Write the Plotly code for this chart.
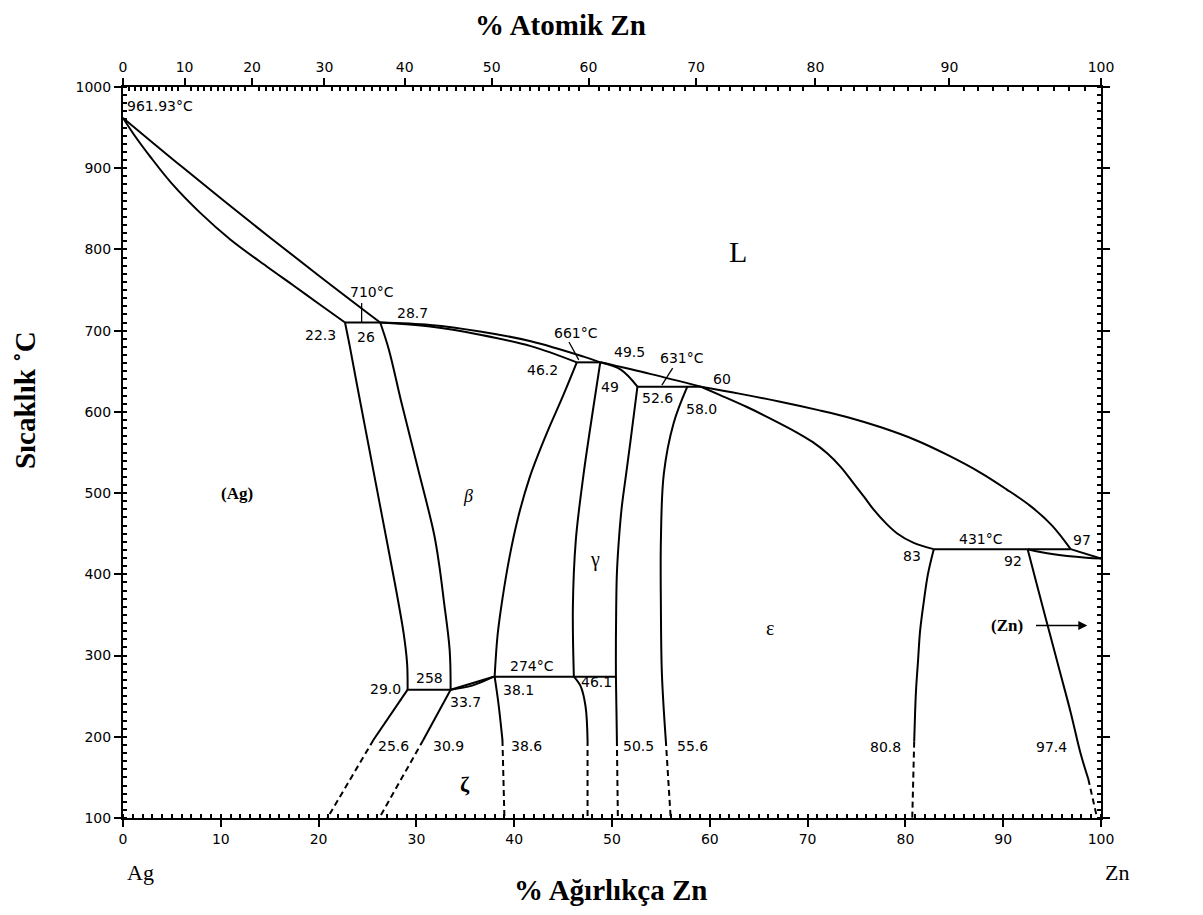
import plotly.graph_objects as go

# ---------------- data (wt.% Zn, temperature °C) ----------------
ag_liq_x = [0, 6, 13, 20, 26.3]
ag_liq_T = [961.93, 902, 834, 768, 710]
ag_sol_x = [0, 1.2, 2.8, 5, 7.9, 11, 14.7, 17.5, 19.8, 22.7]
ag_sol_T = [961.93, 940, 914, 881, 845, 812, 779, 755, 735, 710]

per710_x = [22.7, 26.3]
per710_T = [710, 710]

alpha_solvus_x = [22.7, 23.2, 23.9, 25.2, 26.5, 27.8, 28.7, 29.05, 29.1]
alpha_solvus_T = [710, 680, 635, 553, 471, 389, 327, 290, 258]

beta_left_x = [26.3, 27.2, 28.4, 30.1, 31.8, 32.35, 32.8, 33.4, 33.5]
beta_left_T = [710, 676, 615, 533, 450, 410, 368, 307, 258]

eut258_x = [29.1, 33.5]
eut258_T = [258, 258]

liq1_x = [26.3, 31.4, 36.5, 41.7, 47.1, 48.8]
liq1_T = [710, 707, 699, 687, 668, 661]
beta_sol_x = [26.3, 31.4, 36.5, 41.7, 46.4]
beta_sol_T = [710, 705, 695, 681, 661]

per661_x = [46.4, 48.8]
per661_T = [661, 661]

beta_right_x = [46.4, 45.0, 43.2, 41.6, 40.4, 39.5, 38.8, 38.3, 38.0]
beta_right_T = [661, 620, 570, 520, 470, 420, 370, 325, 274]

liq2a_x = [48.8, 54, 59.1]
liq2a_T = [661, 646.5, 631]
liq2b_x = [59.1, 63, 67.2, 71, 74.1, 77.5, 80.9, 84.3, 87.7, 90.3, 92.8, 95, 96.9]
liq2b_T = [631, 622.5, 612.5, 602.5, 593.5, 581, 566, 547, 525, 505, 484, 460, 431]

gamma_sol_x = [48.8, 50.9, 52.6]
gamma_sol_T = [661, 652, 631]

per631_x = [52.6, 59.1]
per631_T = [631, 631]

gamma_left_x = [48.8, 48.1, 47.1, 46.3, 46.0, 46.1]
gamma_left_T = [661, 606, 524, 442, 360, 274]

zeta_gamma_x = [46.1, 46.8, 47.3, 47.5]
zeta_gamma_T = [274, 262, 237, 196]
zeta_gamma_d_x = [47.5, 47.5]
zeta_gamma_d_T = [196, 100]

line274_x = [37.9, 50.4]
line274_T = [274, 274]

gamma_right_x = [52.6, 52.25, 51.9, 51.45, 51.0, 50.7, 50.5, 50.43, 50.4, 50.4, 50.45, 50.5]
gamma_right_T = [631, 598, 565, 524, 483, 442, 401, 360, 319, 278, 237, 196]
gamma_right_d_x = [50.5, 50.6]
gamma_right_d_T = [196, 100]

eps_left_x = [57.7, 56.3, 55.3, 55.0, 55.0, 55.1, 55.5]
eps_left_T = [631, 586, 524, 442, 360, 278, 196]
eps_left_d_x = [55.5, 56.0]
eps_left_d_T = [196, 100]

eps_sol_x = [59.1, 61, 63.8, 66, 69.0, 70.5, 72, 73.4, 74.7, 75.8, 76.8, 78, 79.2, 80.8, 82.9]
eps_sol_T = [631, 621, 606, 593, 574, 563, 549, 532, 512, 495, 479, 463, 450, 439, 431]

per431_x = [82.9, 96.9]
per431_T = [431, 431]

eps_right_x = [82.9, 82.3, 81.9, 81.5, 81.3, 81.1, 81.0, 80.9]
eps_right_T = [431, 400, 368, 330, 295, 260, 233, 194]
eps_right_d_x = [80.9, 80.7]
eps_right_d_T = [194, 100]

zn_solvus_x = [92.5, 93.6, 94.7, 95.8, 96.9, 97.9, 98.7]
zn_solvus_T = [431, 380, 330, 280, 230, 180, 148]
zn_solvus_d_x = [98.7, 99.6]
zn_solvus_d_T = [148, 100]

zn_sol_x = [92.5, 95.0, 98.5, 100]
zn_sol_T = [431, 425, 420.5, 419.58]
zn_liq_x = [96.9, 100]
zn_liq_T = [431, 419.58]

z1_x = [29.1, 25.6]
z1_T = [258, 196]
z1_d_x = [25.6, 20.9]
z1_d_T = [196, 100]
z2_x = [33.5, 30.7]
z2_T = [258, 196]
z2_d_x = [30.7, 26.2]
z2_d_T = [196, 100]
z3_x = [38.0, 38.4, 38.8]
z3_T = [274, 240, 196]
z3_d_x = [38.8, 39.0]
z3_d_T = [196, 100]

lens_up_x = [33.5, 37.9]
lens_up_T = [258, 274]
lens_lo_x = [33.5, 35.7, 37.9]
lens_lo_T = [258, 263, 274]

lead710_x = [24.4, 24.4]
lead710_T = [734, 710]
lead661_x = [45.6, 46.6]
lead661_T = [686, 664]
lead631_x = [56.2, 55.1]
lead631_T = [654, 633]

# point labels: text, x, T
label_text = ["961.93°C", "710°C", "28.7", "22.3", "26", "661°C", "49.5", "46.2", "49",
              "631°C", "60", "52.6", "58.0", "258", "29.0", "33.7", "274°C", "38.1", "46.1",
              "25.6", "30.9", "38.6", "50.5", "55.6", "80.8", "97.4", "431°C", "97", "83", "92"]
label_x = [0.2, 25.5, 29.6, 20.2, 24.8, 46.3, 51.8, 42.9, 49.8,
           57.2, 61.2, 54.7, 59.2, 31.3, 26.8, 35.0, 41.8, 40.4, 48.4,
           27.7, 33.3, 41.3, 52.7, 58.2, 78.0, 94.9, 87.7, 98.1, 80.7, 91.0]
label_T = [976, 748, 722, 695, 692, 697, 674, 651, 631,
           666, 641, 617, 604, 272, 259, 243, 287, 257, 268,
           189, 189, 189, 189, 189, 188, 188, 443, 442, 422, 416]

# top axis (atomic % Zn) tick positions on the wt.% scale
top_tick_pos = [0, 6.3, 13.2, 20.6, 28.8, 37.7, 47.6, 58.6, 70.8, 84.5, 100]
top_tick_text = ["0", "10", "20", "30", "40", "50", "60", "70", "80", "90", "100"]

M_ZN, M_AG = 65.38, 107.87
def at_to_wt(a):
    return 100 * a * M_ZN / (a * M_ZN + (100 - a) * M_AG)
top_minor = [at_to_wt(a) for a in range(1, 100) if a % 10 != 0]

fig = go.Figure()

def add_line(x, y, dash="solid", smooth=True):
    fig.add_trace(go.Scatter(
        x=x, y=y, mode="lines",
        line=dict(color="black", width=2, dash=dash,
                  shape="spline" if (smooth and len(x) > 2) else "linear",
                  smoothing=1.0),
        hoverinfo="skip", showlegend=False))

solid = [
    (ag_liq_x, ag_liq_T), (ag_sol_x, ag_sol_T), (per710_x, per710_T),
    (alpha_solvus_x, alpha_solvus_T), (beta_left_x, beta_left_T), (eut258_x, eut258_T),
    (liq1_x, liq1_T), (beta_sol_x, beta_sol_T), (per661_x, per661_T),
    (beta_right_x, beta_right_T), (liq2a_x, liq2a_T), (liq2b_x, liq2b_T),
    (gamma_sol_x, gamma_sol_T),
    (per631_x, per631_T), (gamma_left_x, gamma_left_T), (zeta_gamma_x, zeta_gamma_T),
    (line274_x, line274_T), (gamma_right_x, gamma_right_T), (eps_left_x, eps_left_T),
    (eps_sol_x, eps_sol_T), (per431_x, per431_T), (eps_right_x, eps_right_T),
    (zn_solvus_x, zn_solvus_T), (zn_sol_x, zn_sol_T), (zn_liq_x, zn_liq_T),
    (z1_x, z1_T), (z2_x, z2_T), (z3_x, z3_T), (lens_up_x, lens_up_T), (lens_lo_x, lens_lo_T),
]
for x, y in solid:
    add_line(x, y)

for x, y in [(lead710_x, lead710_T), (lead661_x, lead661_T), (lead631_x, lead631_T)]:
    fig.add_trace(go.Scatter(x=x, y=y, mode="lines", line=dict(color="black", width=1.3),
                             hoverinfo="skip", showlegend=False))

dashed = [
    (zeta_gamma_d_x, zeta_gamma_d_T), (gamma_right_d_x, gamma_right_d_T),
    (eps_left_d_x, eps_left_d_T), (eps_right_d_x, eps_right_d_T),
    (zn_solvus_d_x, zn_solvus_d_T), (z1_d_x, z1_d_T), (z2_d_x, z2_d_T), (z3_d_x, z3_d_T),
]
for x, y in dashed:
    add_line(x, y, dash="6px,4px", smooth=False)

# invisible trace for top axis
fig.add_trace(go.Scatter(x=[0, 100], y=[100, 100], xaxis="x2", mode="lines",
                         line=dict(width=0), opacity=0, hoverinfo="skip", showlegend=False))

lab_font = dict(family="DejaVu Sans", size=14, color="black")
for t, x, y in zip(label_text, label_x, label_T):
    fig.add_annotation(x=x, y=y, text=t, showarrow=False, font=lab_font,
                       xanchor="left" if t == "961.93°C" else "center", yanchor="middle")

fig.add_annotation(x=100.4, y=416, text="419.58°C", showarrow=False, font=lab_font,
                   xanchor="left", yanchor="middle")

# phase labels
def phase(x, y, text, size):
    fig.add_annotation(x=x, y=y, text=text, showarrow=False, xanchor="center", yanchor="middle",
                       font=dict(family="Liberation Serif", size=size, color="black"))

phase(62.9, 797, "L", 30)
phase(11.7, 500, "<b>(Ag)</b>", 17)
phase(35.3, 496, "<i>β</i>", 18)
phase(48.3, 418, "γ", 20)
phase(66.2, 334, "ε", 20)
phase(35.0, 141, "<b>ζ</b>", 22)
phase(90.4, 337, "<b>(Zn)</b>", 17)
fig.add_annotation(x=98.6, y=337, ax=93.2, ay=337, xref="x", yref="y", axref="x", ayref="y",
                   text="", showarrow=True, arrowhead=2, arrowsize=1.2, arrowwidth=1.5,
                   arrowcolor="black")

# axis titles and end labels
title_font = dict(family="Liberation Serif", size=29, color="black")
def paper_text(x, y, text, font, angle=0):
    fig.add_annotation(x=x, y=y, xref="paper", yref="paper", text=text, showarrow=False,
                       font=font, textangle=angle, xanchor="center", yanchor="middle")

paper_text(0.447, 1.085, "<b>% Atomik Zn</b>", title_font)
paper_text(0.498, -0.099, "<b>% Ağırlıkça Zn</b>", title_font)
paper_text(-0.1, 0.572, "<b>Sıcaklık ˚C</b>", title_font, -90)
paper_text(0.0174, -0.075, "Ag", dict(family="Liberation Serif", size=22, color="black"))
paper_text(1.016, -0.075, "Zn", dict(family="Liberation Serif", size=22, color="black"))

tick_font = dict(family="DejaVu Sans", size=14, color="black")
fig.update_layout(
    width=1203, height=915,
    margin=dict(l=123, r=102, t=87, b=97),
    paper_bgcolor="white", plot_bgcolor="white",
    xaxis=dict(range=[0, 100], tickmode="array", tickvals=list(range(0, 101, 10)),
               ticks="outside", ticklen=7, tickwidth=1.5, tickcolor="black",
               showline=True, linecolor="black", linewidth=2, mirror=True,
               showgrid=False, zeroline=False, tickfont=tick_font,
               minor=dict(dtick=1, ticks="inside", ticklen=4, tickcolor="black", showgrid=False)),
    xaxis2=dict(range=[0, 100], overlaying="x", side="top", tickmode="array",
                tickvals=top_tick_pos, ticktext=top_tick_text,
                ticks="outside", ticklen=7, tickwidth=1.5, tickcolor="black",
                showline=True, linecolor="black", linewidth=2,
                showgrid=False, zeroline=False, tickfont=tick_font,
                minor=dict(tickvals=top_minor, ticks="inside", ticklen=4, tickcolor="black",
                           showgrid=False)),
    yaxis=dict(range=[100, 1000], tickmode="array", tickvals=list(range(100, 1001, 100)),
               ticks="outside", ticklen=7, tickwidth=1.5, tickcolor="black",
               showline=True, linecolor="black", linewidth=2, mirror="ticks",
               showgrid=False, zeroline=False, tickfont=tick_font,
               minor=dict(dtick=10, ticks="inside", ticklen=4, tickcolor="black", showgrid=False)),
)

fig.write_html("out.html")
